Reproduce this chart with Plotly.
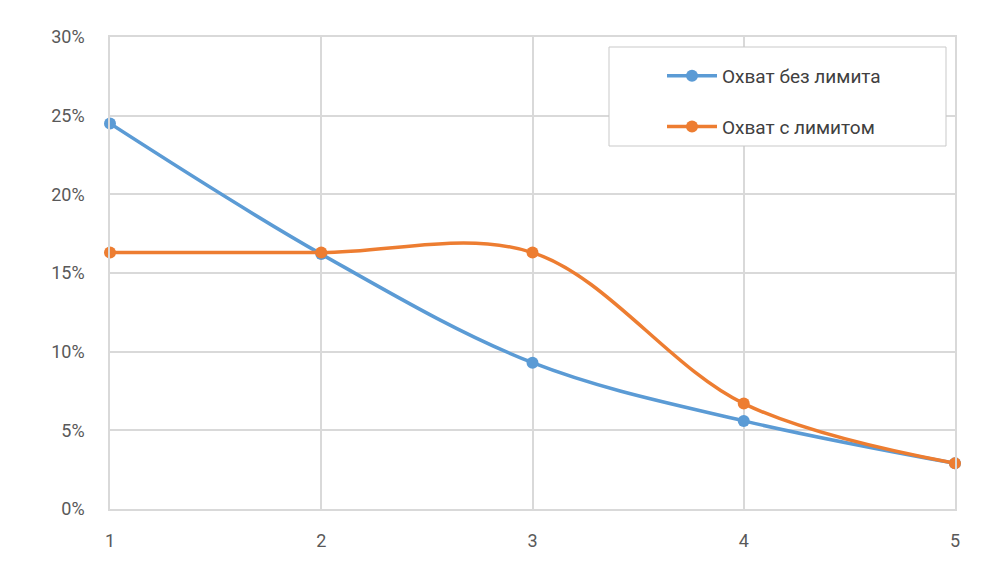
import plotly.graph_objects as go

x_vals = [1, 2, 3, 4, 5]
no_limit = [0.245, 0.162, 0.093, 0.056, 0.029]
with_limit = [0.163, 0.163, 0.163, 0.067, 0.029]
series_names = ["Охват без лимита", "Охват с лимитом"]
y_ticks = [0, 0.05, 0.10, 0.15, 0.20, 0.25, 0.30]
y_tick_labels = ["0%", "5%", "10%", "15%", "20%", "25%", "30%"]

blue = "#5B9BD5"
orange = "#ED7D31"

fig = go.Figure()
fig.add_trace(go.Scatter(x=x_vals, y=no_limit, name=series_names[0], mode="lines+markers",
                         line=dict(color=blue, width=3.5, shape="spline", smoothing=1.0),
                         marker=dict(color=blue, size=12), legendgroup="a", cliponaxis=False))
fig.add_trace(go.Scatter(x=x_vals, y=with_limit, name=series_names[1], mode="lines+markers",
                         line=dict(color=orange, width=3.5, shape="spline", smoothing=1.0),
                         marker=dict(color=orange, size=12), legendgroup="b", cliponaxis=False))

# page body has an 8px offset
OFF = 8
W, H = 996, 586
L, T = 110 - OFF, 37 - OFF
pw, ph = 845, 472
R = W - L - pw
B = H - T - ph

def px(xp):
    return (xp - OFF - L) / pw

def py(yp):
    return (H - B - (yp - OFF)) / ph

fig.add_shape(type="rect", xref="paper", yref="paper",
              x0=px(609), x1=px(946), y0=py(146), y1=py(47),
              line=dict(color="#C9C9C9", width=1), fillcolor="white", layer="above")

fig.update_layout(
    width=W, height=H,
    margin=dict(l=L, r=R, t=T, b=B),
    paper_bgcolor="white", plot_bgcolor="white",
    font=dict(family="Roboto, sans-serif", size=18, color="#595959"),
    showlegend=True,
    legend=dict(x=px(662), y=py(57), xanchor="left", yanchor="top",
                bgcolor="rgba(0,0,0,0)", borderwidth=0,
                traceorder="grouped", tracegroupgap=23, itemwidth=50,
                font=dict(size=19, color="#404040")),
    xaxis=dict(range=[1, 5], tickvals=x_vals, ticktext=[str(v) for v in x_vals],
               showgrid=True, gridcolor="#D9D9D9", gridwidth=1.5,
               showline=True, linecolor="#D9D9D9", linewidth=1.5, mirror=True,
               zeroline=False, ticks="", ticklabelstandoff=15),
    yaxis=dict(range=[0, 0.30], tickvals=y_ticks, ticktext=y_tick_labels,
               showgrid=True, gridcolor="#D9D9D9", gridwidth=1.5,
               showline=True, linecolor="#D9D9D9", linewidth=1.5, mirror=True,
               zeroline=False, ticks="", ticklabelstandoff=20),
)

fig.write_html("out.html")
